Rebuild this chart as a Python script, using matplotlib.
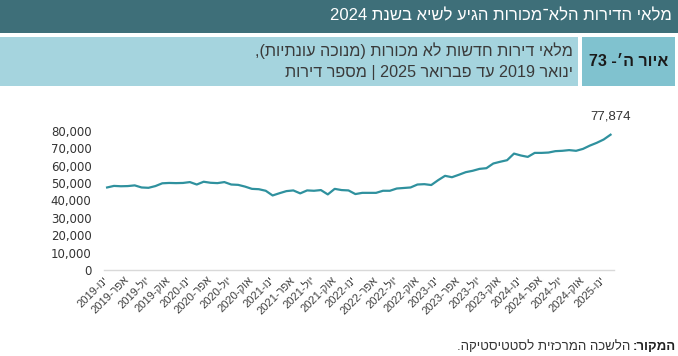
import re
import numpy as np
import matplotlib
matplotlib.use('Agg')
import matplotlib.pyplot as plt
from matplotlib.patches import Rectangle
from matplotlib.ticker import FuncFormatter

plt.rcParams['font.family'] = ['Liberation Sans', 'DejaVu Sans']

# מלאי דירות חדשות לא מכורות, ינואר 2019 עד פברואר 2025 (אלפים)
stock = [47.5, 48.4, 48.2, 48.3, 48.7, 47.5, 47.3, 48.3, 49.9, 50.1, 50.0, 50.1,
         50.6, 49.2, 50.8, 50.2, 50.0, 50.6, 49.2, 49.0, 48.0, 46.7, 46.5, 45.6,
         42.9, 44.2, 45.4, 45.8, 44.1, 45.8, 45.6, 46.0, 43.5, 46.7, 46.0, 45.8,
         43.7, 44.4, 44.4, 44.4, 45.6, 45.6, 46.9, 47.2, 47.5, 49.2, 49.4, 48.9,
         51.7, 54.2, 53.4, 54.8, 56.3, 57.1, 58.2, 58.6, 61.3, 62.3, 63.2, 67.0,
         65.9, 65.1, 67.4, 67.4, 67.6, 68.4, 68.6, 69.0, 68.6, 69.7, 71.6, 73.2,
         75.1, 77.874]
stock = [v * 1000 for v in stock]

tick_labels = ['ינו-2019', 'אפר-2019', 'יול-2019', 'אוק-2019',
               'ינו-2020', 'אפר-2020', 'יול-2020', 'אוק-2020',
               'ינו-2021', 'אפר-2021', 'יול-2021', 'אוק-2021',
               'ינו-2022', 'אפר-2022', 'יול-2022', 'אוק-2022',
               'ינו-2023', 'אפר-2023', 'יול-2023', 'אוק-2023',
               'ינו-2024', 'אפר-2024', 'יול-2024', 'אוק-2024',
               'ינו-2025']
y_ticks = [0, 10000, 20000, 30000, 40000, 50000, 60000, 70000, 80000]

title = 'מלאי הדירות הלא־מכורות הגיע לשיא בשנת 2024'
subtitle1 = 'מלאי דירות חדשות לא מכורות (מנוכה עונתיות),'
subtitle2 = 'ינואר 2019 עד פברואר 2025 | מספר דירות'
fig_no = 'איור ה׳- 73'
source_bold = 'המקור:'
source_text = 'הלשכה המרכזית לסטטיסטיקה.'

W, H = 678, 356


def rtl(s):
    # סדר תצוגה פשוט לעברית: הפוך, והחזר מספרים לכיוונם
    r = s[::-1]
    r = re.sub(r'[0-9][0-9,.]*[0-9]|[0-9]', lambda m: m.group(0)[::-1], r)
    return r.translate(str.maketrans('()', ')('))


def box(x0, y0, x1, y1, color):
    # קואורדינטות בפיקסלים מלמעלה
    fig.add_artist(Rectangle((x0 / W, 1 - y1 / H), (x1 - x0) / W, (y1 - y0) / H,
                             transform=fig.transFigure, color=color, lw=0, zorder=0))


fig = plt.figure(figsize=(W / 100, H / 100), dpi=100)

# כותרות
box(0, 0, W, 33, '#3e6f79')
box(0, 37, 578, 86, '#a5d4de')
box(582, 37, 675, 86, '#80c2cf')
fig.text(672 / W, 1 - 16 / H, rtl(title), color='white', fontsize=12,
         ha='right', va='center')
fig.text(573 / W, 1 - 51 / H, rtl(subtitle1), color='#3a3a3a', fontsize=11.6,
         ha='right', va='center')
fig.text(573 / W, 1 - 72 / H, rtl(subtitle2), color='#3a3a3a', fontsize=11.6,
         ha='right', va='center')
fig.text(629 / W, 1 - 61 / H, rtl(fig_no), color='#1a1a1a', fontsize=11.5,
         fontweight='bold', ha='center', va='center')

# גרף
ax = fig.add_axes([104 / W, 1 - 270 / H, 510 / W, 139 / H])
x = np.arange(len(stock))
ax.plot(x, stock, color='#2f919e', lw=1.6, clip_on=False)
ax.set_xlim(-0.45, 73.5)
ax.set_ylim(0, 80000)
ax.set_yticks(y_ticks)
ax.yaxis.set_major_formatter(FuncFormatter(lambda v, p: f'{int(v):,}'))
ax.set_xticks(x[::3])
ax.set_xticklabels([rtl(t) for t in tick_labels], rotation=45, ha='right',
                   va='center', rotation_mode='anchor', fontsize=8, color='#404040')
ax.tick_params(axis='y', length=0, pad=9, labelsize=8.5, labelcolor='#333333')
ax.tick_params(axis='x', length=0, pad=6)
for lbl in ax.get_yticklabels():
    lbl.set_fontfamily('DejaVu Sans')
for s in ['top', 'right', 'left']:
    ax.spines[s].set_visible(False)
ax.spines['bottom'].set_color('#d9d9d9')
ax.spines['bottom'].set_linewidth(1)

ax.annotate(f'{stock[-1]:,.0f}', xy=(x[-1], stock[-1]), xytext=(0, 9),
            textcoords='offset points', ha='center', va='bottom',
            fontsize=9.5, color='#333333')

# מקור
src = fig.text(676 / W, 1 - 347 / H, rtl(source_bold), fontsize=9.5,
               fontweight='bold', color='#222222', ha='right', va='center')
fig.canvas.draw()
fig.text(0, 0, rtl(source_text), fontsize=9.5, color='#333333',
         ha='right', va='center')
ext = src.get_window_extent()
fig.texts[-1].set_position(((ext.x0 - 3) / W, (ext.y0 + ext.y1) / 2 / H))

fig.savefig('out.png', dpi=100)
